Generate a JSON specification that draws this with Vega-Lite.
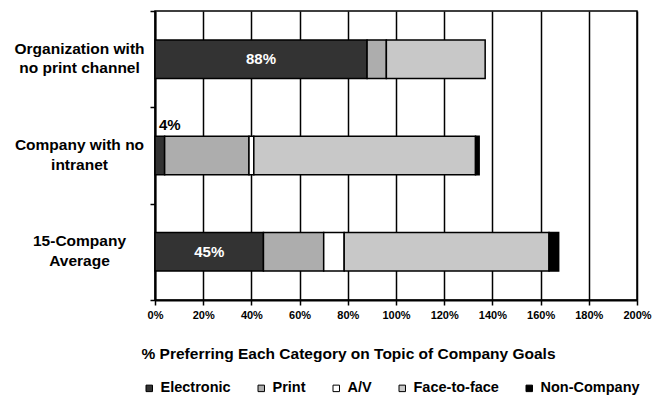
{
  "$schema": "https://vega.github.io/schema/vega-lite/v6.json",
  "width": 482,
  "height": 289,
  "autosize": {"type": "none"},
  "padding": {"left": 155, "top": 11, "right": 18, "bottom": 95},
  "background": "white",
  "config": {
    "font": "Liberation Sans",
    "view": {"stroke": "black", "strokeWidth": 1.5}
  },
  "data": {
    "values": [
      {"group": "Organization with\nno print channel", "category": "Electronic", "value": 0.88},
      {"group": "Organization with\nno print channel", "category": "Print", "value": 0.08},
      {"group": "Organization with\nno print channel", "category": "Face-to-face", "value": 0.41},
      {"group": "Company with no\nintranet", "category": "Electronic", "value": 0.04},
      {"group": "Company with no\nintranet", "category": "Print", "value": 0.35},
      {"group": "Company with no\nintranet", "category": "A/V", "value": 0.02},
      {"group": "Company with no\nintranet", "category": "Face-to-face", "value": 0.92},
      {"group": "Company with no\nintranet", "category": "Non-Company", "value": 0.015},
      {"group": "15-Company\nAverage", "category": "Electronic", "value": 0.45},
      {"group": "15-Company\nAverage", "category": "Print", "value": 0.25},
      {"group": "15-Company\nAverage", "category": "A/V", "value": 0.085},
      {"group": "15-Company\nAverage", "category": "Face-to-face", "value": 0.85},
      {"group": "15-Company\nAverage", "category": "Non-Company", "value": 0.04}
    ]
  },
  "transform": [
    {"calculate": "indexof(['Electronic','Print','A/V','Face-to-face','Non-Company'], datum.category)", "as": "rank"}
  ],
  "encoding": {
    "y": {
      "field": "group",
      "type": "nominal",
      "sort": ["Organization with\nno print channel", "Company with no\nintranet", "15-Company\nAverage"],
      "scale": {"paddingInner": 0, "paddingOuter": 0},
      "axis": {
        "title": null,
        "labelExpr": "split(datum.label, '\\n')",
        "labelAlign": "center",
        "labelBaseline": "middle",
        "labelPadding": 71,
        "labelOffset": -11,
        "labelFontSize": 15.5,
        "labelFontWeight": "bold",
        "labelColor": "black",
        "labelLineHeight": 19.5,
        "labelLimit": 0,
        "tickBand": "extent",
        "tickColor": "black",
        "tickWidth": 1.5,
        "tickSize": 5,
        "domainColor": "black",
        "domainWidth": 2,
        "grid": false
      }
    }
  },
  "layer": [
    {
      "mark": {"type": "bar", "height": {"band": 0.4}, "stroke": "black", "strokeWidth": 1.5},
      "encoding": {
        "x": {
          "field": "value",
          "type": "quantitative",
          "stack": "zero",
          "scale": {"domain": [0, 2], "nice": false},
          "title": "% Preferring Each Category on Topic of Company Goals",
          "axis": {
            "values": [0, 0.2, 0.4, 0.6, 0.8, 1, 1.2, 1.4, 1.6, 1.8, 2],
            "format": ".0%",
            "grid": true,
            "gridColor": "black",
            "gridWidth": 1.5,
            "gridOpacity": 1,
            "domainColor": "black",
            "domainWidth": 2,
            "tickColor": "black",
            "tickWidth": 1.5,
            "tickSize": 5,
            "labelFontSize": 11,
            "labelFontWeight": "bold",
            "labelColor": "black",
            "labelPadding": 4,
            "labelFlush": false,
            "labelOverlap": false,
            "titleFontSize": 15.5,
            "titleFontWeight": "bold",
            "titleColor": "black",
            "titleX": 193,
            "titleY": 58,
            "titleBaseline": "alphabetic",
            "titleAlign": "center"
          }
        },
        "color": {
          "field": "category",
          "type": "nominal",
          "scale": {
            "domain": ["Electronic", "Print", "A/V", "Face-to-face", "Non-Company"],
            "range": ["#333333", "#adadad", "#ffffff", "#c8c8c8", "#000000"]
          },
          "legend": {
            "title": null,
            "orient": "none",
            "legendX": -13,
            "legendY": 370,
            "direction": "horizontal",
            "symbolType": "square",
            "symbolSize": 42,
            "symbolStrokeColor": "black",
            "symbolStrokeWidth": 1,
            "symbolOpacity": 1,
            "labelFontSize": 14.5,
            "labelFontWeight": "bold",
            "labelColor": "black",
            "labelOffset": 4,
            "columnPadding": 23,
            "padding": 0
          }
        },
        "order": {"field": "rank", "type": "quantitative"}
      }
    },
    {
      "transform": [
        {"filter": "datum.category == 'Electronic' && datum.value > 0.1"},
        {"calculate": "datum.value / 2", "as": "mid"}
      ],
      "mark": {"type": "text", "color": "white", "fontSize": 15, "fontWeight": "bold"},
      "encoding": {
        "x": {"field": "mid", "type": "quantitative", "title": "% Preferring Each Category on Topic of Company Goals"},
        "text": {"field": "value", "format": ".0%"}
      }
    },
    {
      "transform": [
        {"filter": "datum.category == 'Electronic' && datum.value <= 0.1"}
      ],
      "mark": {"type": "text", "color": "black", "fontSize": 15, "fontWeight": "bold", "align": "left", "baseline": "alphabetic", "dx": 4, "dy": -26},
      "encoding": {
        "x": {"datum": 0, "type": "quantitative"},
        "text": {"field": "value", "format": ".0%"}
      }
    }
  ]
}
